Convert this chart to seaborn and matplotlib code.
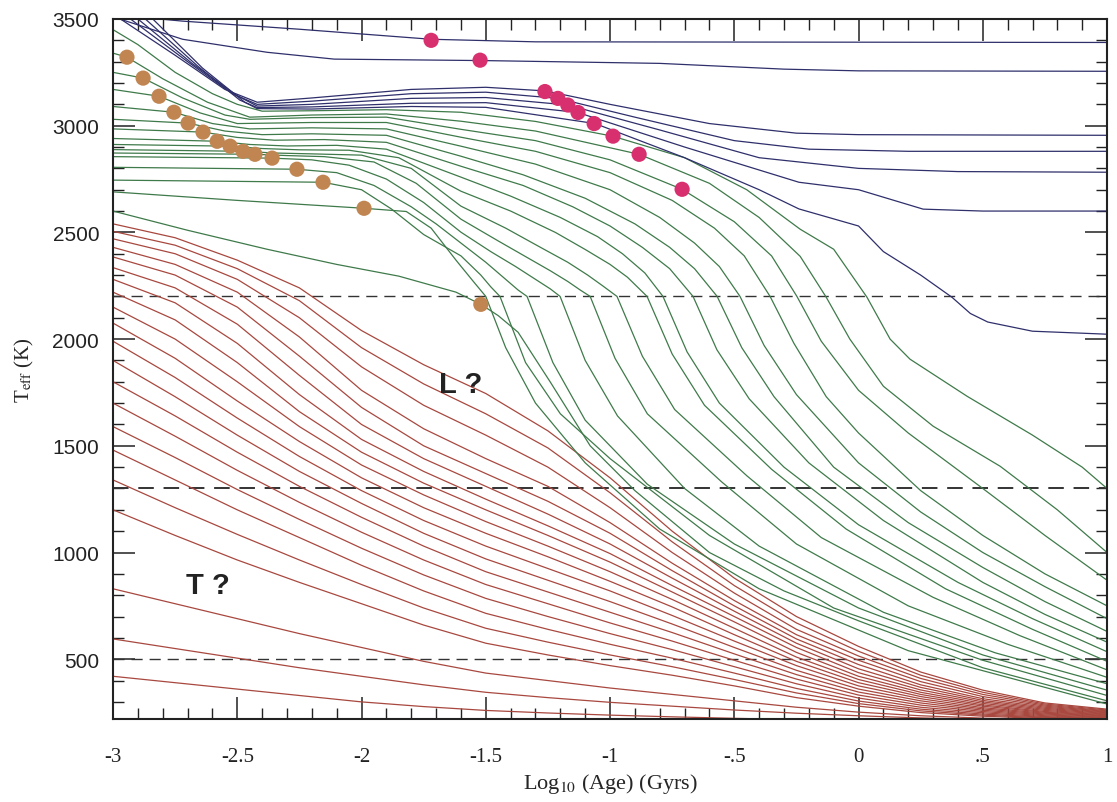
import pandas as pd
import matplotlib
matplotlib.use("Agg")
import matplotlib.pyplot as plt
from matplotlib.ticker import MultipleLocator
import seaborn as sns

# ---- data: log10(age/Gyr) vs Teff (K) ----
red_x = [-3, -2.75, -2.5, -2.25, -2, -1.75, -1.5, -1.25, -1, -0.75, -0.5, -0.25, 0, 0.25, 0.5, 0.75, 1]
red_T = [
    [2540, 2475, 2370, 2240, 2040, 1880, 1745, 1570, 1350, 1100, 880, 700, 560, 440, 355, 295, 266],
    [2505, 2440, 2330, 2180, 1960, 1790, 1650, 1490, 1280, 1050, 845, 670, 537, 425, 345, 290, 262],
    [2470, 2400, 2280, 2100, 1870, 1690, 1550, 1400, 1210, 1000, 810, 640, 515, 410, 335, 285, 258],
    [2430, 2350, 2220, 2010, 1760, 1580, 1440, 1310, 1140, 950, 775, 615, 495, 395, 325, 280, 255],
    [2385, 2300, 2150, 1920, 1680, 1500, 1370, 1240, 1090, 915, 750, 595, 475, 380, 315, 275, 252],
    [2335, 2240, 2070, 1830, 1600, 1440, 1310, 1180, 1040, 880, 725, 575, 455, 368, 307, 270, 249],
    [2280, 2170, 1980, 1740, 1530, 1380, 1250, 1125, 995, 845, 700, 555, 437, 356, 300, 265, 246],
    [2220, 2090, 1890, 1660, 1470, 1325, 1200, 1080, 955, 815, 675, 532, 420, 345, 293, 260, 243],
    [2150, 2000, 1800, 1590, 1410, 1270, 1145, 1030, 910, 780, 645, 510, 405, 335, 286, 255, 240],
    [2075, 1910, 1710, 1520, 1350, 1210, 1090, 980, 865, 745, 615, 490, 390, 325, 280, 251, 237],
    [1990, 1820, 1630, 1450, 1290, 1150, 1030, 925, 820, 705, 585, 470, 375, 315, 273, 247, 234],
    [1900, 1730, 1550, 1380, 1230, 1090, 970, 870, 770, 665, 555, 448, 360, 305, 267, 243, 231],
    [1800, 1640, 1470, 1310, 1165, 1030, 910, 815, 720, 625, 525, 428, 346, 295, 261, 239, 228],
    [1700, 1545, 1385, 1235, 1095, 965, 850, 760, 670, 585, 495, 407, 332, 285, 255, 235, 225],
    [1590, 1445, 1295, 1155, 1020, 895, 785, 700, 620, 545, 465, 385, 318, 275, 249, 231, 222],
    [1480, 1340, 1200, 1070, 940, 820, 715, 640, 570, 505, 435, 363, 304, 266, 243, 228, 220],
    [1340, 1210, 1085, 965, 850, 740, 645, 580, 520, 465, 405, 342, 292, 258, 238, 225, 217],
    [1200, 1080, 965, 860, 760, 660, 575, 520, 470, 425, 375, 320, 280, 250, 233, 222, 214],
    [830, 760, 690, 620, 555, 490, 435, 400, 365, 335, 305, 275, 252, 235, 224, 215, 208],
    [595, 550, 505, 460, 420, 380, 345, 320, 298, 280, 262, 247, 235, 225, 218, 212, 206],
    [420, 390, 360, 330, 300, 278, 260, 248, 238, 230, 223, 217, 212, 208, 204, 200, 197],
]

green_x = [
    [-3, -2.7, -2.38, -2.1, -1.85, -1.62, -1.52, -1.45, -1.37, -1.24, -1.08, -0.9, -0.6, -0.3, 0.0, 0.5, 1.0],
    [-3, -2.5, -1.99, -1.82, -1.72, -1.62, -1.55, -1.5, -1.42, -1.3, -1.1, -0.8, -0.4, 0.2, 1.0],
    [-3, -2.155, -2.0, -1.88, -1.75, -1.6, -1.52, -1.48, -1.443, -1.34, -1.2, -1.0, -0.6, -0.1, 0.5, 1.0],
    [-3, -2.26, -2.1, -1.95, -1.8, -1.7, -1.6, -1.5, -1.42, -1.37, -1.334, -1.23, -1.1, -0.85, -0.5, 0.0, 0.5, 1.0],
    [-3, -2.36, -2.2, -2.05, -1.9, -1.75, -1.6, -1.48, -1.38, -1.3, -1.24, -1.201, -1.1, -0.97, -0.7, -0.4, 0.1, 0.55, 1.0],
    [-3, -2.429, -2.3, -2.15, -1.95, -1.78, -1.6, -1.45, -1.33, -1.24, -1.17, -1.12, -1.08, -0.98, -0.85, -0.55, -0.25, 0.2, 0.6, 1.0],
    [-3, -2.477, -2.35, -2.2, -2.0, -1.8, -1.6, -1.42, -1.28, -1.17, -1.09, -1.03, -0.972, -0.87, -0.74, -0.45, -0.15, 0.3, 0.65, 1.0],
    [-3, -2.529, -2.4, -2.25, -2.05, -1.85, -1.6, -1.4, -1.22, -1.1, -1.0, -0.93, -0.851, -0.75, -0.62, -0.35, -0.05, 0.35, 0.7, 1.0],
    [-3, -2.581, -2.45, -2.3, -2.1, -1.9, -1.6, -1.4, -1.2, -1.05, -0.95, -0.86, -0.787, -0.69, -0.56, -0.3, 0.0, 0.4, 0.7, 1.0],
    [-3, -2.638, -2.5, -2.35, -2.15, -1.9, -1.6, -1.35, -1.15, -1.0, -0.87, -0.76, -0.666, -0.57, -0.44, -0.2, 0.1, 0.5, 0.75, 1.0],
    [-3, -2.698, -2.55, -2.4, -2.2, -1.9, -1.6, -1.35, -1.1, -0.9, -0.76, -0.66, -0.569, -0.47, -0.34, -0.1, 0.2, 0.5, 0.75, 1.0],
    [-3, -2.755, -2.6, -2.45, -2.2, -1.9, -1.6, -1.3, -1.0, -0.8, -0.66, -0.56, -0.477, -0.38, -0.25, 0.0, 0.25, 0.5, 0.75, 1.0],
    [-3, -2.815, -2.65, -2.5, -2.2, -1.9, -1.6, -1.3, -1.0, -0.75, -0.58, -0.46, -0.356, -0.26, -0.13, 0.0, 0.25, 0.5, 0.75, 1.0],
    [-3, -2.879, -2.72, -2.55, -2.45, -2.2, -1.9, -1.6, -1.3, -1.0, -0.71, -0.5, -0.35, -0.248, -0.15, 0.0, 0.2, 0.5, 0.75, 1.0],
    [-3, -2.944, -2.8, -2.62, -2.45, -2.2, -1.9, -1.6, -1.3, -0.883, -0.6, -0.4, -0.235, -0.13, -0.035, 0.1, 0.3, 0.57, 0.8, 1.0],
    [-3, -2.9, -2.75, -2.6, -2.5, -2.4, -2.2, -1.9, -1.6, -1.3, -0.99, -0.7, -0.45, -0.235, -0.1, 0.034, 0.127, 0.207, 0.437, 0.7, 0.9, 1.0],
]
green_T = [
    [2600, 2510, 2421, 2350, 2295, 2220, 2163, 2110, 2032, 1798, 1500, 1290, 1000, 820, 680, 460, 305],
    [2690, 2650, 2613, 2598, 2520, 2370, 2270, 2200, 1960, 1700, 1420, 1110, 830, 540, 290],
    [2745, 2735, 2700, 2610, 2490, 2390, 2300, 2245, 2200, 1890, 1650, 1440, 1080, 740, 495, 330],
    [2805, 2796, 2780, 2720, 2620, 2540, 2450, 2360, 2280, 2230, 2200, 1890, 1620, 1320, 1040, 740, 520, 355],
    [2855, 2848, 2840, 2815, 2750, 2640, 2501, 2410, 2340, 2280, 2235, 2200, 1900, 1640, 1300, 1030, 720, 530, 385],
    [2872, 2866, 2860, 2855, 2830, 2730, 2562, 2460, 2380, 2320, 2270, 2230, 2200, 1910, 1650, 1330, 1040, 750, 570, 415],
    [2888, 2880, 2872, 2868, 2862, 2800, 2623, 2520, 2430, 2360, 2300, 2250, 2200, 1920, 1670, 1360, 1070, 790, 610, 450],
    [2912, 2904, 2893, 2887, 2885, 2850, 2693, 2600, 2500, 2420, 2350, 2290, 2200, 1930, 1690, 1390, 1110, 830, 640, 490],
    [2940, 2927, 2912, 2905, 2908, 2890, 2759, 2670, 2570, 2480, 2400, 2310, 2200, 1940, 1700, 1400, 1130, 860, 690, 535],
    [2985, 2970, 2945, 2932, 2935, 2922, 2810, 2720, 2620, 2530, 2430, 2330, 2200, 1950, 1720, 1420, 1150, 860, 710, 580],
    [3030, 3012, 2975, 2958, 2962, 2955, 2857, 2770, 2660, 2540, 2430, 2330, 2200, 1960, 1730, 1400, 1140, 930, 770, 630],
    [3090, 3063, 3010, 2985, 2990, 2985, 2904, 2820, 2700, 2570, 2450, 2340, 2200, 1970, 1740, 1420, 1190, 1000, 840, 690],
    [3170, 3138, 3060, 3010, 3015, 3015, 2946, 2880, 2780, 2650, 2520, 2390, 2200, 1980, 1730, 1560, 1290, 1080, 900, 750],
    [3250, 3223, 3130, 3050, 3030, 3038, 3040, 2983, 2930, 2840, 2702, 2550, 2390, 2200, 1990, 1760, 1560, 1300, 1080, 870],
    [3340, 3321, 3220, 3110, 3040, 3050, 3055, 3021, 2975, 2866, 2730, 2570, 2388, 2196, 2000, 1779, 1592, 1404, 1200, 1000],
    [3450, 3380, 3250, 3150, 3100, 3068, 3070, 3075, 3063, 3020, 2951, 2850, 2700, 2515, 2421, 2196, 2000, 1906, 1732, 1550, 1400, 1300],
]

blue_x = [
    [-3, -2.72, -2.25, -1.72, -1.3, 1.0],
    [-3, -2.72, -2.38, -2.11, -1.5, -0.8, -0.3, 0.0, 1.0],
    [-2.97, -2.75, -2.55, -2.42, -2.2, -1.8, -1.5, -1.26, -1.0, -0.6, -0.25, 0.0, 1.0],
    [-2.93, -2.7, -2.52, -2.42, -2.2, -1.8, -1.5, -1.21, -0.9, -0.5, -0.2, 0.2, 1.0],
    [-2.9, -2.68, -2.5, -2.42, -2.2, -1.8, -1.5, -1.17, -0.8, -0.4, 0.0, 0.4, 1.0],
    [-2.87, -2.66, -2.49, -2.42, -2.2, -1.8, -1.5, -1.13, -0.7, -0.24, 0.0, 0.26, 0.5, 1.0],
    [-2.84, -2.64, -2.47, -2.42, -2.2, -1.8, -1.5, -1.06, -0.7, -0.4, -0.24, 0.0, 0.1, 0.25, 0.376, 0.45, 0.52, 0.7, 1.0],
]
blue_T = [
    [3520, 3490, 3452, 3405, 3393, 3390],
    [3510, 3405, 3344, 3312, 3305, 3292, 3265, 3257, 3255],
    [3500, 3330, 3170, 3110, 3130, 3170, 3180, 3163, 3100, 3010, 2965, 2958, 2955],
    [3500, 3300, 3150, 3100, 3115, 3150, 3157, 3128, 3040, 2930, 2890, 2880, 2880],
    [3500, 3290, 3140, 3092, 3100, 3128, 3132, 3097, 2980, 2850, 2800, 2785, 2782],
    [3500, 3280, 3120, 3085, 3088, 3105, 3108, 3062, 2900, 2735, 2700, 2609, 2600, 2600],
    [3500, 3270, 3110, 3080, 3078, 3090, 3086, 3010, 2850, 2700, 2610, 2530, 2410, 2300, 2196, 2120, 2080, 2037, 2023],
]

# 50% deuterium burnt (gold) and 50% lithium burnt (magenta)
gold_x = [-2.944, -2.879, -2.815, -2.755, -2.698, -2.638, -2.581, -2.529, -2.477, -2.429, -2.36, -2.26, -2.155, -1.99, -1.52]
gold_T = [3321, 3223, 3138, 3063, 3012, 2970, 2927, 2904, 2880, 2866, 2848, 2796, 2735, 2613, 2163]
pink_x = [-1.72, -1.523, -1.262, -1.21, -1.17, -1.129, -1.064, -0.988, -0.883, -0.71]
pink_T = [3400, 3307, 3160, 3128, 3097, 3062, 3010, 2951, 2866, 2702]

dash_T = [2200, 1300, 500]
xtick_vals = [-3, -2.5, -2, -1.5, -1, -0.5, 0, 0.5, 1]
xtick_text = ["-3", "-2.5", "-2", "-1.5", "-1", "-.5", "0", ".5", "1"]
ytick_vals = [500, 1000, 1500, 2000, 2500, 3000, 3500]

rows = []
for i, ts in enumerate(red_T):
    for xv, tv in zip(red_x, ts):
        rows.append(("red", f"r{i}", xv, tv))
for i, (xs, ts) in enumerate(zip(green_x, green_T)):
    for xv, tv in zip(xs, ts):
        rows.append(("green", f"g{i}", xv, tv))
for i, (xs, ts) in enumerate(zip(blue_x, blue_T)):
    for xv, tv in zip(xs, ts):
        rows.append(("blue", f"b{i}", xv, tv))
df = pd.DataFrame(rows, columns=["family", "curve", "logage", "teff"])

sns.set_theme(style="white")
plt.rcParams["font.family"] = ["Liberation Sans", "DejaVu Sans"]
plt.rcParams["mathtext.fontset"] = "stix"

fig = plt.figure(figsize=(11.17, 8.03), dpi=100)
ax = fig.add_axes([0.1012, 0.1034, 0.8899, 0.8717])

pal = {"red": "#a8483f", "green": "#3f7a4a", "blue": "#2f2f6c"}
sns.lineplot(data=df, x="logage", y="teff", hue="family", units="curve",
             estimator=None, sort=False, palette=pal, legend=False,
             linewidth=0.9, ax=ax)

for t in dash_T:
    ax.axhline(t, color="#333333", lw=1.4 if t == 1300 else 1.0, dashes=(8, 5), zorder=1)

sns.scatterplot(x=gold_x, y=gold_T, color="#c08550", s=120, edgecolor="none", ax=ax, zorder=5)
sns.scatterplot(x=pink_x, y=pink_T, color="#d8306e", s=120, edgecolor="none", ax=ax, zorder=5)

ax.text(-1.6, 1790, "L ?", fontsize=21, fontweight="bold", ha="center", va="center", color="#222222")
ax.text(-2.62, 850, "T ?", fontsize=21, fontweight="bold", ha="center", va="center", color="#222222")

ax.set_xlim(-3, 1)
ax.set_ylim(220, 3500)
ax.set_xticks(xtick_vals)
ax.set_xticklabels(xtick_text, family="Liberation Serif", fontsize=15)
ax.xaxis.set_minor_locator(MultipleLocator(0.1))
ax.set_yticks(ytick_vals)
ax.set_yticklabels([str(v) for v in ytick_vals], fontsize=15, color="#333333")
ax.yaxis.set_minor_locator(MultipleLocator(100))
ax.tick_params(which="both", direction="in", bottom=True, left=True, top=True, right=True,
               colors="#222222")
ax.tick_params(which="major", length=16, width=1.1)
ax.tick_params(which="minor", length=8, width=1.0)
ax.tick_params(axis="x", which="major", pad=20)
ax.tick_params(axis="y", which="major", pad=10)
for sp in ax.spines.values():
    sp.set_linewidth(1.5)
    sp.set_color("#222222")

ax.set_xlabel(r"Log$_{10}$ (Age) (Gyrs)", family="Liberation Serif", fontsize=16, labelpad=4)
ax.set_ylabel(r"T$_{\rm eff}$ (K)", family="Liberation Serif", fontsize=15, labelpad=12)

fig.savefig("out.png", dpi=100, facecolor="white")
